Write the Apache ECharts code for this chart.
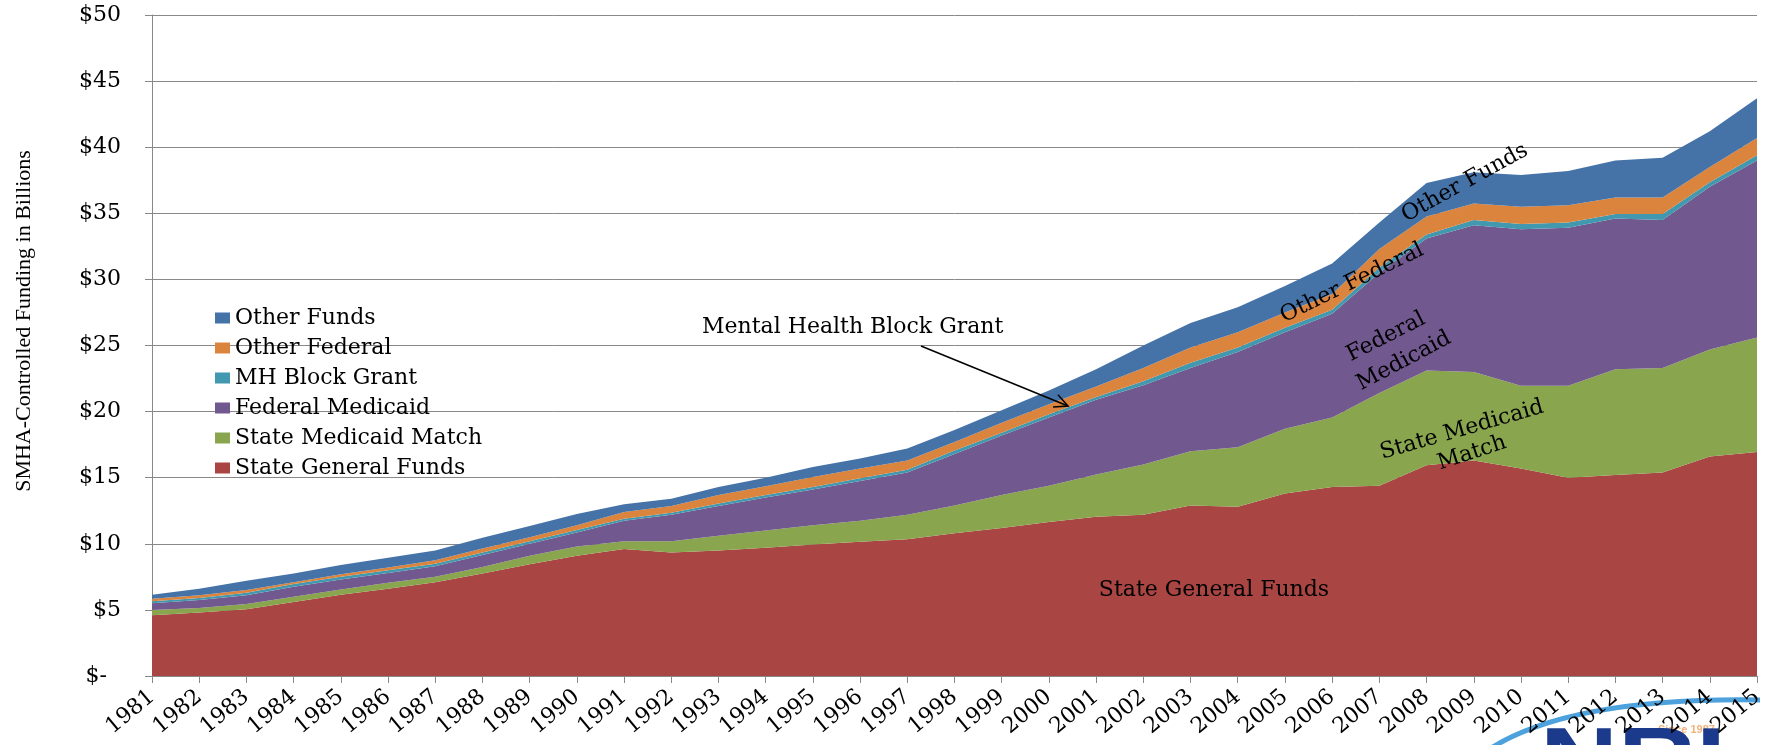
<!DOCTYPE html>
<html>
<head>
<meta charset="utf-8">
<title>SMHA-Controlled Funding</title>
<script src="https://cdn.jsdelivr.net/npm/echarts@6/dist/echarts.min.js"></script>
<style>
    html, body { margin: 0; padding: 0; background: #fff; }
    #main { width: 1767px; height: 745px; }
</style>
</head>
<body>
<div id="main"></div>
<script>
    // funding by source, billions of dollars
    var years = ['1981','1982','1983','1984','1985','1986','1987','1988','1989','1990',
        '1991','1992','1993','1994','1995','1996','1997','1998','1999','2000',
        '2001','2002','2003','2004','2005','2006','2007','2008','2009','2010',
        '2011','2012','2013','2014','2015'];

    var stateGeneralFunds = [4.6,4.8,5.05,5.6,6.15,6.6,7.1,7.75,8.45,9.1,
        9.6,9.35,9.5,9.7,9.95,10.15,10.35,10.8,11.2,11.65,
        12.05,12.2,12.9,12.8,13.8,14.3,14.4,15.95,16.3,15.7,
        15.0,15.2,15.4,16.6,16.95];
    var stateMedicaidMatch = [0.4,0.35,0.4,0.4,0.4,0.45,0.4,0.5,0.65,0.7,
        0.6,0.85,1.1,1.3,1.45,1.6,1.85,2.1,2.5,2.75,
        3.2,3.8,4.1,4.5,4.9,5.25,7.0,7.15,6.7,6.25,
        6.95,8.0,7.9,8.1,8.65];
    var federalMedicaid = [0.5,0.6,0.65,0.75,0.75,0.75,0.8,0.9,0.9,1.05,
        1.55,2.0,2.25,2.5,2.7,3.0,3.2,3.9,4.5,5.15,
        5.65,6.0,6.3,7.2,7.3,7.85,9.1,10.0,11.1,11.85,
        11.95,11.4,11.2,12.3,13.4];
    var mhBlockGrant = [0.15,0.15,0.2,0.2,0.2,0.2,0.2,0.2,0.2,0.2,
        0.15,0.15,0.2,0.2,0.2,0.2,0.2,0.25,0.2,0.25,
        0.2,0.3,0.4,0.35,0.35,0.3,0.4,0.3,0.4,0.4,
        0.4,0.35,0.45,0.35,0.4];
    var otherFederal = [0.2,0.2,0.2,0.15,0.2,0.2,0.25,0.3,0.3,0.35,
        0.5,0.5,0.65,0.65,0.75,0.75,0.7,0.65,0.75,0.75,
        0.8,1.0,1.15,1.15,1.15,1.2,1.4,1.35,1.25,1.3,
        1.3,1.25,1.25,1.15,1.3];
    var otherFunds = [0.3,0.5,0.7,0.65,0.7,0.75,0.75,0.8,0.85,0.85,
        0.6,0.55,0.6,0.65,0.75,0.75,0.9,0.9,0.95,1.05,
        1.3,1.7,1.85,1.9,2.0,2.3,2.0,2.55,2.35,2.4,
        2.6,2.8,3.0,2.7,3.0];

    var yTickLabels = ['$-  ','$5','$10','$15','$20','$25','$30','$35','$40','$45','$50'];

    var seriesNames = ['State General Funds','State Medicaid Match','Federal Medicaid',
        'MH Block Grant','Other Federal','Other Funds'];
    var seriesData = [stateGeneralFunds, stateMedicaidMatch, federalMedicaid,
        mhBlockGrant, otherFederal, otherFunds];
    var colors = ['#a94543','#89a54e','#71588f','#4198af','#db843d','#4572a7'];

    var serif = 'DejaVu Serif';

    var series = seriesNames.map(function (name, i) {
        return {
            name: name,
            type: 'line',
            stack: 'total',
            data: seriesData[i],
            symbol: 'none',
            lineStyle: { width: 0 },
            areaStyle: { color: colors[i], opacity: 1 },
            itemStyle: { color: colors[i] },
            z: 2
        };
    });

    // arrow for "Mental Health Block Grant"
    var ax1 = 921, ay1 = 346, ax2 = 1068, ay2 = 406;
    var ang = Math.atan2(ay2 - ay1, ax2 - ax1);
    var headLen = 15, headAng = 0.45;

    function label(text, x, y, deg) {
        return {
            type: 'text', x: x, y: y, z: 100,
            rotation: (deg || 0) * Math.PI / 180,
            style: {
                text: text, fill: '#000',
                font: '22px "' + serif + '"',
                textAlign: 'center', textVerticalAlign: 'middle'
            }
        };
    }

    var option = {
        animation: false,
        backgroundColor: '#fff',
        color: colors,
        grid: { left: 152, right: 10, top: 15, bottom: 69, containLabel: false },
        legend: {
            orient: 'vertical',
            left: 210,
            top: 302,
            itemWidth: 15,
            itemHeight: 11,
            itemGap: 8,
            icon: 'rect',
            data: ['Other Funds','Other Federal','MH Block Grant','Federal Medicaid',
                'State Medicaid Match','State General Funds'],
            textStyle: { fontFamily: serif, fontSize: 22, color: '#000', lineHeight: 22 }
        },
        xAxis: {
            type: 'category',
            boundaryGap: false,
            data: years,
            axisLine: { lineStyle: { color: '#888', width: 1 } },
            axisTick: { show: true, length: 7, lineStyle: { color: '#888' } },
            axisLabel: {
                rotate: 40, margin: 18, interval: 0,
                fontFamily: serif, fontSize: 22, color: '#000'
            },
            splitLine: { show: false }
        },
        yAxis: {
            type: 'value',
            min: 0, max: 50, interval: 5,
            axisLine: { show: true, lineStyle: { color: '#888', width: 1 } },
            axisTick: { show: true, length: 7, lineStyle: { color: '#888' } },
            axisLabel: {
                margin: 31,
                fontFamily: serif, fontSize: 22, color: '#000',
                formatter: function (v) { return yTickLabels[Math.round(v / 5)]; }
            },
            splitLine: { show: true, lineStyle: { color: '#888', width: 1 } }
        },
        series: series,
        graphic: [
            {
                type: 'text', x: 24, y: 321, z: 100,
                rotation: Math.PI / 2,
                style: {
                    text: 'SMHA-Controlled Funding in Billions', fill: '#000',
                    font: '22px "Liberation Serif"',
                    textAlign: 'center', textVerticalAlign: 'middle'
                }
            },
            {
                type: 'text', x: 702, y: 327, z: 100,
                style: {
                    text: 'Mental Health Block Grant', fill: '#000',
                    font: '22px "' + serif + '"',
                    textAlign: 'left', textVerticalAlign: 'middle'
                }
            },
            {
                type: 'line', z: 100,
                shape: { x1: ax1, y1: ay1, x2: ax2, y2: ay2 },
                style: { stroke: '#000', lineWidth: 1.5 }
            },
            {
                type: 'polyline', z: 100,
                shape: { points: [
                    [ax2 - headLen * Math.cos(ang - headAng), ay2 - headLen * Math.sin(ang - headAng)],
                    [ax2, ay2],
                    [ax2 - headLen * Math.cos(ang + headAng), ay2 - headLen * Math.sin(ang + headAng)]
                ] },
                style: { stroke: '#000', lineWidth: 1.5, fill: null }
            },
            label('Other Funds', 1465, 183, 29),
            label('Other Federal', 1352, 283, 26),
            label('Federal', 1386, 337, 27),
            label('Medicaid', 1404, 361, 28),
            label('State Medicaid', 1462, 430, 16),
            label('Match', 1472, 453, 18),
            label('State General Funds', 1214, 590, 0),
            // logo in the bottom-right corner, mostly cut off
            {
                type: 'bezierCurve', z: -1,
                shape: { x1: 1488, y1: 750, cpx1: 1570, cpy1: 697, x2: 1760, y2: 700 },
                style: { stroke: '#4da1dc', lineWidth: 5, fill: null }
            },
            {
                type: 'text', x: 1658, y: 730, z: -1,
                style: {
                    text: 'Since 1987', fill: '#f2b27a',
                    font: 'bold 11px "Liberation Sans"',
                    textVerticalAlign: 'middle'
                }
            },
            {
                type: 'text', x: 1540, y: 721, z: -1, scaleX: 1.2,
                style: {
                    text: 'NRI', fill: '#1c3a8c',
                    font: 'bold 90px "Liberation Sans"',
                    textVerticalAlign: 'top'
                }
            }
        ]
    };

    var chart = echarts.init(document.getElementById('main'));
    chart.setOption(option);
</script>
</body>
</html>
